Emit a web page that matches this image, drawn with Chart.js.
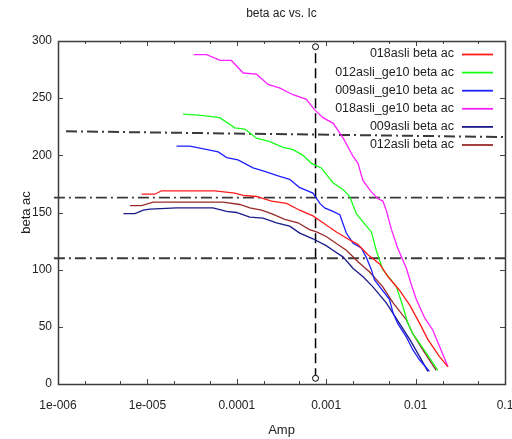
<!DOCTYPE html>
<html>
<head>
<meta charset="utf-8">
<script src="https://cdn.jsdelivr.net/npm/chart.js@4/dist/chart.umd.min.js"></script>
<style>
  html, body { margin: 0; padding: 0; background: #fff; }
  #wrap { width: 512px; height: 439px; }
</style>
</head>
<body>
<div id="wrap"><canvas id="c" width="512" height="439"></canvas></div>
<script>
// ---- data: amplitude (x) and beta ac (y) per device ----
const amp018 = [8.6e-6,1.21e-5,1.44e-5,3e-5,5.7e-5,9.5e-5,1.18e-4,1.66e-4,2.44e-4,3.6e-4,5.06e-4,7.1e-4,9.2e-4,1.3e-3,1.83e-3,2.27e-3,2.93e-3,3.96e-3,4.9e-3,6.6e-3,8.6e-3,1.11e-2,1.37e-2,1.85e-2,2.3e-2];
const beta018 = [166,166,169,169,169,167,165,164,160,158,152,147,141,133,126,122,113,105,94,82,69,53,39,24,15];

const amp012g = [2.5e-5,4.0e-5,6.45e-5,9.5e-5,1.23e-4,1.66e-4,2.34e-4,3.29e-4,4.26e-4,5.5e-4,6.84e-4,8.8e-4,1.19e-3,1.55e-3,1.83e-3,2.17e-3,2.69e-3,3.2e-3,3.63e-3,4.3e-3,6.1e-3,7.2e-3,8.2e-3,9.3e-3,1.32e-2,1.77e-2];
const beta012g = [236,235,233,224,223,215,212,207,205,200,193,189,176,170,164,149,140,133,117,100,85,68,53,44,27,12];

const amp009g = [2.12e-5,2.98e-5,4.0e-5,6.2e-5,7.7e-5,1.03e-4,1.52e-4,2.05e-4,2.9e-4,3.9e-4,5.0e-4,7.1e-4,8.5e-4,9.6e-4,1.19e-3,1.42e-3,1.68e-3,2.0e-3,2.47e-3,2.8e-3,3.2e-3,3.47e-3,5.1e-3,5.6e-3,6.3e-3,7.9e-3,9.3e-3,1.11e-2,1.43e-2];
const beta009g = [208,208,206,203,198,196,189,186,182,179,172,167,158,154,151,148,132,123,119,111,100,91,74,62,53,41,30,21,11];

const amp018g = [3.3e-5,4.6e-5,6.5e-5,8.7e-5,1.18e-4,1.66e-4,2.24e-4,3.0e-4,4.25e-4,6.0e-4,7.4e-4,9.2e-4,1.2e-3,1.55e-3,2.0e-3,2.27e-3,2.57e-3,3.2e-3,3.8e-3,4.3e-3,4.7e-3,5.37e-3,6.3e-3,7.9e-3,8.95e-3,1.02e-2,1.26e-2,1.56e-2,1.85e-2,2.3e-2];
const beta018g = [288,288,283,283,272,271,262,259,253,249,240,233,228,215,199,193,178,168,162,160,152,135,119,101,87,74,58,47,33,15];

const amp009 = [5.4e-6,7.25e-6,9.0e-6,1.07e-5,2.12e-5,5.4e-5,7.7e-5,9.9e-5,1.4e-4,1.97e-4,2.78e-4,3.9e-4,5.06e-4,7.1e-4,1.0e-3,1.19e-3,1.55e-3,2.0e-3,2.57e-3,3.33e-3,4.7e-3,6.6e-3,8.6e-3,1.11e-2,1.37e-2];
const beta009 = [149,149,152,153,154,154,151,150,146,145,141,138,132,127,121,117,111,101,94,85,71,53,39,24,11];

const amp012 = [6.4e-6,8.6e-6,1.16e-5,3e-5,7.0e-5,1.08e-4,1.4e-4,1.89e-4,2.44e-4,3.44e-4,4.84e-4,6.5e-4,7.8e-4,1.0e-3,1.35e-3,1.68e-3,2.27e-3,3.06e-3,4.3e-3,5.6e-3,7.9e-3,9.3e-3,1.2e-2,1.7e-2];
const beta012 = [156,156,159,159,159,157,154,152,149,144,141,135,133,129,122,117,107,98,85,71,56,44,30,12];

const seriesNames = ['018asli beta ac','012asli_ge10 beta ac','009asli_ge10 beta ac','018asli_ge10 beta ac','009asli beta ac','012asli beta ac'];
const seriesColors = ['#ff1a1a','#1aff1a','#2020ff','#ff20ff','#1a1a8a','#9a2a2a'];
const seriesAmp = [amp018, amp012g, amp009g, amp018g, amp009, amp012];
const seriesBeta = [beta018, beta012g, beta009g, beta018g, beta009, beta012];

// reference levels (dash-dot) and the marker at the operating amplitude
const refAmpStart = [1.23e-6, 9e-7, 9e-7];
const refAmpEnd = [0.1, 0.1, 0.1];
const refBetaStart = [221, 163, 110];
const refBetaEnd = [216, 163, 110];
const markerAmp = [7.6e-4, 7.6e-4];
const markerBeta = [5, 295];

// axes
const xDecades = [1e-6, 1e-5, 1e-4, 1e-3, 1e-2, 1e-1];
const xTickLabels = ['1e-006','1e-005','0.0001','0.001','0.01','0.1'];
const yTicks = [0, 50, 100, 150, 200, 250, 300];

const FONT = '"Liberation Sans", Arial, sans-serif';
const TEXT = '#222';

const toPoints = (xs, ys) => xs.map((x, i) => ({ x: x, y: ys[i] }));

const datasets = seriesNames.map((name, i) => ({
  label: name,
  data: toPoints(seriesAmp[i], seriesBeta[i]),
  borderColor: seriesColors[i],
  backgroundColor: seriesColors[i],
  borderWidth: 1.3,
  pointRadius: 0,
  tension: 0,
  fill: false
}));

refBetaStart.forEach((b, i) => {
  datasets.push({
    label: '',
    isRef: true,
    data: [{ x: refAmpStart[i], y: b }, { x: refAmpEnd[i], y: refBetaEnd[i] }],
    borderColor: '#3a3a3a',
    borderWidth: i === 1 ? 1.6 : 2,
    borderDash: [11, 4, 2, 4],
    pointRadius: 0,
    tension: 0,
    clip: false
  });
});

datasets.push({
  label: '',
  isRef: true,
  data: toPoints(markerAmp, markerBeta),
  borderColor: '#000',
  borderWidth: 1.5,
  borderDash: [10, 5],
  pointRadius: 3,
  pointBackgroundColor: '#fff',
  pointBorderColor: '#000',
  pointBorderWidth: 1,
  tension: 0,
  clip: false
});

// frame, inward tick marks, title and in-plot legend
const decorPlugin = {
  id: 'decor',
  afterDraw(chart) {
    const ctx = chart.ctx;
    const a = chart.chartArea;
    const xs = chart.scales.x, ys = chart.scales.y;
    ctx.save();
    ctx.strokeStyle = '#444';
    ctx.lineWidth = 1;
    // ticks on x (major decades and minor 2, 5)
    ctx.beginPath();
    xDecades.forEach((d, k) => {
      const px = Math.round(xs.getPixelForValue(d)) + 0.5;
      ctx.moveTo(px, a.bottom); ctx.lineTo(px, a.bottom - 5);
      ctx.moveTo(px, a.top); ctx.lineTo(px, a.top + 5);
      if (k < xDecades.length - 1) {
        [2, 5].forEach(m => {
          const pm = Math.round(xs.getPixelForValue(d * m)) + 0.5;
          ctx.moveTo(pm, a.bottom); ctx.lineTo(pm, a.bottom - 3);
          ctx.moveTo(pm, a.top); ctx.lineTo(pm, a.top + 3);
        });
      }
    });
    yTicks.forEach(v => {
      const py = Math.round(ys.getPixelForValue(v)) + 0.5;
      ctx.moveTo(a.left, py); ctx.lineTo(a.left + 5, py);
      ctx.moveTo(a.right, py); ctx.lineTo(a.right - 5, py);
    });
    ctx.stroke();
    // frame
    ctx.strokeStyle = '#3c3c3c';
    ctx.lineWidth = 1.5;
    ctx.strokeRect(Math.round(a.left) + 0.5, Math.round(a.top) + 0.5,
                   Math.round(a.right - a.left), Math.round(a.bottom - a.top));
    // title
    ctx.fillStyle = TEXT;
    ctx.font = '12px ' + FONT;
    ctx.textAlign = 'center';
    ctx.textBaseline = 'middle';
    ctx.fillText('beta ac vs. Ic', (a.left + a.right) / 2, 14);
    // legend
    ctx.font = '12.5px ' + FONT;
    ctx.textAlign = 'right';
    chart.data.datasets.forEach((ds, i) => {
      if (ds.isRef) return;
      const y = 54 + i * 18.1;
      ctx.fillStyle = TEXT;
      ctx.fillText(ds.label, 454, y);
      ctx.strokeStyle = ds.borderColor;
      ctx.lineWidth = 1.8;
      ctx.setLineDash([]);
      ctx.beginPath();
      ctx.moveTo(462, y + 0.5); ctx.lineTo(493, y + 0.5);
      ctx.stroke();
    });
    ctx.restore();
  }
};

new Chart(document.getElementById('c'), {
  type: 'line',
  data: { datasets: datasets },
  options: {
    responsive: false,
    animation: false,
    events: [],
    layout: { padding: { top: 41, right: 7, left: 0, bottom: 0 } },
    plugins: { legend: { display: false }, title: { display: false }, tooltip: { enabled: false } },
    scales: {
      x: {
        type: 'logarithmic',
        min: 1e-6,
        max: 0.1,
        afterBuildTicks: s => { s.ticks = xDecades.map(v => ({ value: v, major: true })); },
        afterFit: s => { s.height = 55; s.paddingLeft = 0; s.paddingRight = 0; },
        grid: { display: false, drawTicks: false, tickLength: 0 },
        border: { display: false },
        ticks: {
          autoSkip: false, maxRotation: 0, minRotation: 0, padding: 14,
          color: TEXT, font: { family: FONT, size: 12 },
          callback: (v, i) => xTickLabels[i]
        },
        title: { display: true, text: 'Amp', color: TEXT, font: { family: FONT, size: 13 }, padding: { top: 0, bottom: 1 } }
      },
      y: {
        type: 'linear',
        min: 0,
        max: 300,
        afterBuildTicks: s => { s.ticks = yTicks.map(v => ({ value: v })); },
        afterFit: s => { s.width = 58; s.paddingTop = 0; s.paddingBottom = 0; },
        grid: { display: false, drawTicks: false, tickLength: 0 },
        border: { display: false },
        ticks: { padding: 6, color: TEXT, font: { family: FONT, size: 12 } },
        title: { display: true, text: 'beta ac', color: TEXT, font: { family: FONT, size: 13 }, padding: { top: 19, bottom: 0 } }
      }
    }
  },
  plugins: [decorPlugin]
});
</script>
</body>
</html>
